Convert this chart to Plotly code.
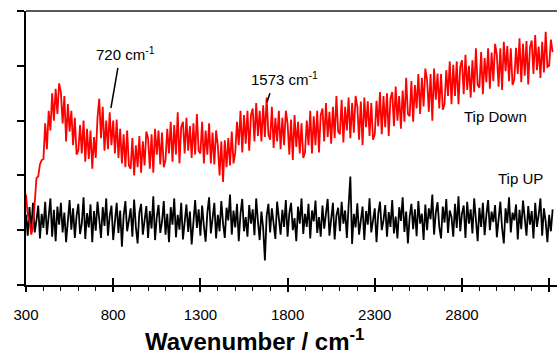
import plotly.graph_objects as go

# Raman spectra recorded with the tip down (enhanced) and tip up (reference)
WN_START = 300
WN_STEP = 10

tip_down = [
    165, 128, 115, 92, 105, 150, 195, 198, 220, 228,
    230, 295, 248, 318, 282, 350, 300, 358, 312, 368,
    352, 295, 345, 262, 330, 280, 318, 255, 305, 238,
    245, 292, 240, 300, 225, 285, 230, 282, 212, 270,
    232, 305, 340, 268, 325, 245, 300, 248, 315, 255,
    300, 240, 302, 232, 285, 222, 275, 215, 282, 218,
    212, 268, 200, 255, 215, 272, 205, 262, 218, 280,
    268, 212, 275, 205, 285, 238, 282, 220, 278, 215,
    228, 285, 240, 298, 225, 292, 238, 315, 222, 288,
    298, 240, 305, 245, 290, 232, 295, 238, 312, 245,
    240, 298, 222, 282, 238, 295, 222, 278, 220, 282,
    255, 200, 262, 188, 264, 215, 268, 218, 280, 222,
    242, 298, 255, 318, 242, 310, 258, 318, 245, 310,
    322, 262, 332, 272, 318, 262, 328, 270, 342, 275,
    265, 325, 250, 305, 262, 318, 248, 305, 255, 318,
    295, 238, 302, 228, 310, 252, 298, 240, 295, 232,
    242, 300, 255, 318, 240, 308, 255, 318, 242, 310,
    322, 262, 332, 270, 316, 258, 325, 268, 345, 280,
    275, 338, 260, 325, 282, 342, 268, 332, 278, 345,
    325, 265, 335, 255, 342, 288, 335, 272, 332, 265,
    275, 336, 290, 352, 275, 345, 288, 350, 272, 340,
    352, 290, 362, 300, 345, 285, 355, 298, 378, 312,
    308, 372, 298, 365, 322, 385, 312, 378, 326, 395,
    374, 316, 385, 300, 395, 338, 386, 322, 385, 320,
    330, 392, 345, 408, 330, 402, 345, 408, 330, 398,
    410, 348, 420, 356, 400, 342, 410, 352, 432, 365,
    360, 425, 348, 414, 370, 432, 358, 424, 372, 440,
    420, 362, 432, 356, 444, 390, 436, 372, 432, 365,
    375, 433, 385, 450, 370, 440, 382, 445, 366, 434,
    446, 385, 456, 392, 435, 378, 444, 388, 462, 398,
    400, 448, 425,
]

tip_up = [
    128, 90, 142, 100, 150, 96, 118, 145, 85, 130,
    104, 152, 92, 126, 158, 88, 137, 80, 143, 110,
    150, 96, 132, 78, 120, 155, 101, 140, 86, 126,
    148, 93, 112, 160, 84, 131, 105, 147, 78, 135,
    99, 152, 120, 86, 142, 108, 158, 90, 126, 145,
    82, 118, 150, 95, 136, 70, 127, 153, 98, 118,
    140, 88, 156, 106, 76, 132, 148, 92, 121, 144,
    86, 135, 103, 162, 82, 124, 146, 95, 115, 153,
    92, 130, 78, 142, 110, 158, 87, 128, 101, 150,
    83, 120, 147, 97, 134, 74, 124, 155, 104, 138,
    90, 145, 108, 79, 132, 160, 94, 120, 150, 85,
    128, 98, 153, 112, 86, 141, 118, 165, 92, 136,
    105, 148, 80, 130, 157, 98, 124, 88, 146, 112,
    138, 91, 158, 116, 82, 134, 104, 45, 126, 148,
    96, 140, 115, 84, 152, 120, 92, 137, 106, 155,
    88, 131, 150, 100, 122, 80, 143, 112, 158, 93,
    130, 106, 148, 85, 136, 116, 154, 95, 124, 88,
    145, 103, 132, 157, 90, 121, 150, 83, 127, 141,
    98, 152, 112, 136, 86, 145, 198, 75, 130, 105,
    149, 92, 123, 143, 82, 135, 110, 158, 96, 122,
    140, 78, 130, 152, 100, 118, 146, 88, 133, 106,
    155, 94, 125, 85, 142, 117, 160, 97, 134, 76,
    124, 148, 102, 138, 89, 153, 112, 130, 82, 147,
    100, 140, 120, 165, 92, 132, 151, 106, 85, 143,
    114, 157, 95, 136, 124, 88, 148, 104, 162, 98,
    130, 145, 86, 152, 112, 138, 94, 158, 122, 80,
    141, 106, 150, 91, 128, 155, 100, 134, 115, 146,
    87, 126, 152, 104, 76, 140, 113, 160, 96, 132,
    118, 147, 83, 137, 102, 154, 122, 90, 144, 110,
    135, 85, 150, 106, 128, 158, 90, 140, 116, 78,
    128, 98, 138,
]

wavenumber = [WN_START + WN_STEP * i for i in range(len(tip_down))]

X_RANGE = [300, 3345]
Y_RANGE = [0, 500]
X_TICK0, X_DTICK, X_MINOR = 300, 500, 100
Y_DTICK = 100

# peak labels: (text, label x, label y, pointer start, pointer end)
peak_labels = [
    ("720 cm<sup>-1</sup>", 868, 423, (827, 396), (787, 323)),
    ("1573 cm<sup>-1</sup>", 1785, 376, (1699, 350), (1682, 334)),
]
trace_labels = [
    ("Tip Down", 2995, 307),
    ("Tip UP", 3133, 195),
]

FONT = "Liberation Sans, Arial, sans-serif"

fig = go.Figure()
fig.add_trace(go.Scatter(
    x=wavenumber, y=tip_up, mode="lines", name="Tip UP",
    line=dict(color="#000000", width=1.8), hoverinfo="skip",
))
fig.add_trace(go.Scatter(
    x=wavenumber, y=tip_down, mode="lines", name="Tip Down",
    line=dict(color="#ff0000", width=1.8), hoverinfo="skip",
))
# helper trace so the inner tick marks of the x axis get drawn
fig.add_trace(go.Scatter(x=[None], y=[None], xaxis="x2", showlegend=False,
                         hoverinfo="skip"))

for text, lx, ly, (x0, y0), (x1, y1) in peak_labels:
    fig.add_annotation(x=lx, y=ly, text=text, showarrow=False,
                       font=dict(family=FONT, size=15, color="#000000"))
    fig.add_shape(type="line", xref="x", yref="y", x0=x0, y0=y0, x1=x1, y1=y1,
                  line=dict(color="#000000", width=1.5))

for text, lx, ly in trace_labels:
    fig.add_annotation(x=lx, y=ly, text=text, showarrow=False,
                       font=dict(family=FONT, size=15, color="#000000"))

# x-axis title
fig.add_annotation(xref="paper", yref="paper", x=0.431, y=-0.2,
                   xanchor="center", yanchor="middle", showarrow=False,
                   text="<b>Wavenumber / cm<sup>-1</sup></b>",
                   font=dict(family=FONT, size=24, color="#000000"))

# top frame line
fig.add_shape(type="line", xref="paper", yref="paper", x0=0, x1=1, y0=1, y1=1,
              line=dict(color="#5a5a5a", width=2))

fig.update_layout(
    width=557, height=354,
    margin=dict(l=26, r=0, t=11, b=69),
    paper_bgcolor="white", plot_bgcolor="white",
    showlegend=False,
    font=dict(family=FONT, color="#000000"),
    xaxis=dict(
        range=X_RANGE, tickmode="linear", tick0=X_TICK0, dtick=X_DTICK,
        ticks="outside", ticklen=5, tickwidth=1.5, tickcolor="#000000",
        minor=dict(tick0=X_TICK0, dtick=X_MINOR, ticks="outside", ticklen=4,
                   tickwidth=1, tickcolor="#000000"),
        showline=True, linewidth=2, linecolor="#000000",
        showgrid=False, zeroline=False,
        tickfont=dict(family=FONT, size=15, color="#000000"),
        ticklabelstandoff=10,
    ),
    xaxis2=dict(
        range=X_RANGE, overlaying="x", anchor="y", side="bottom",
        tickmode="linear", tick0=X_TICK0, dtick=X_DTICK,
        ticks="inside", ticklen=7, tickwidth=1.5, tickcolor="#000000",
        showticklabels=False, showline=False, showgrid=False, zeroline=False,
    ),
    yaxis=dict(
        range=Y_RANGE, tickmode="linear", tick0=0, dtick=Y_DTICK,
        ticks="outside", ticklen=7, tickwidth=1.5, tickcolor="#000000",
        showticklabels=False, showline=True, linewidth=2, linecolor="#000000",
        showgrid=False, zeroline=False,
    ),
)

fig.write_html("out.html")
